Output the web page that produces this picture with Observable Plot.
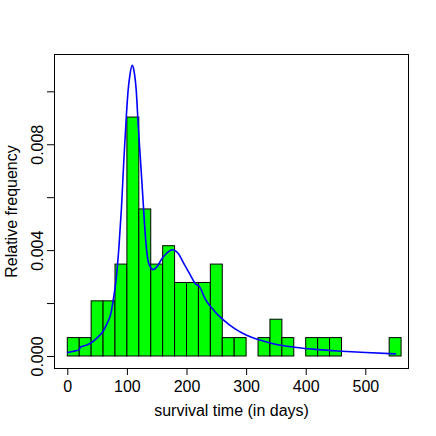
<!DOCTYPE html>
<html>
<head>
<meta charset="utf-8">
<script src="https://cdn.jsdelivr.net/npm/d3@7"></script>
<script src="https://cdn.jsdelivr.net/npm/@observablehq/plot@0.6"></script>
<style>
  html, body { margin: 0; padding: 0; background: #ffffff; }
  #chart svg { display: block; }
</style>
</head>
<body>
<div id="chart"></div>
<script>
// Histogram bins (left edges, width 20 days) and counts of guinea pigs
const binStart = [0, 20, 40, 60, 80, 100, 120, 140, 160, 180, 200, 220, 240, 260, 280, 300, 320, 340, 360, 380, 400, 420, 440, 460, 480, 500, 520, 540];
const binCounts = [1, 1, 3, 3, 5, 13, 8, 5, 6, 4, 4, 4, 5, 1, 1, 0, 1, 2, 1, 0, 1, 1, 1, 0, 0, 0, 0, 1];
const binWidth = 20;
const sampleSize = 72;

// Fitted density curve
const curveX = [0, 10, 19, 21, 30, 41, 50, 60, 66, 72, 77, 81, 86, 90, 94, 98, 101, 104, 108, 111, 115, 118, 122, 126, 129, 134, 138, 143, 150, 158, 166, 175, 185, 195, 205, 213, 222, 230, 245, 260, 280, 300, 325, 350, 380, 420, 460, 500, 550];
const curveY = [0.00015, 0.0002, 0.00025, 0.00035, 0.00042, 0.00054, 0.00072, 0.00098, 0.00125, 0.0016, 0.00224, 0.0029, 0.0042, 0.0056, 0.0074, 0.009, 0.01, 0.0106, 0.011, 0.0108, 0.01, 0.0088, 0.0074, 0.006, 0.0049, 0.0037, 0.0034, 0.00328, 0.0034, 0.0037, 0.0039, 0.00403, 0.0039, 0.0035, 0.0031, 0.00278, 0.0026, 0.0022, 0.00174, 0.0014, 0.00105, 0.0008, 0.0006, 0.00045, 0.00035, 0.00026, 0.0002, 0.00015, 0.0001];

// Axis ticks
const xTicks = [0, 100, 200, 300, 400, 500];
const yTicks = [0, 0.002, 0.004, 0.006, 0.008, 0.010];
const yLabelTicks = [0, 0.004, 0.008];
const yTickLabels = ["0.000", "0.004", "0.008"];

const xTitle = "survival time (in days)";
const yTitle = "Relative frequency";

const bins = binStart.map((s, i) => ({x1: s, x2: s + binWidth, y: binCounts[i] / (sampleSize * binWidth)}));
const curve = curveX.map((x, i) => ({x, y: curveY[i]}));

const chart = Plot.plot({
  width: 436,
  height: 436,
  marginLeft: 54,
  marginRight: 28,
  marginTop: 54,
  marginBottom: 68,
  style: {fontFamily: "'Liberation Sans', Arial, Helvetica, sans-serif", fontSize: "16px", color: "#000", background: "#fff"},
  x: {domain: [-22.3, 571.6]},
  y: {domain: [-0.000454, 0.01141]},
  marks: [
    Plot.rectY(bins, {x1: "x1", x2: "x2", y1: 0, y2: "y", fill: "#00ff00", stroke: "#000", strokeWidth: 1, inset: 0}),
    Plot.line(curve, {x: "x", y: "y", stroke: "#0000ff", strokeWidth: 1.6, curve: "monotone-x"}),
    Plot.frame({stroke: "#000", strokeWidth: 1}),
    Plot.axisX(xTicks, {tickSize: 7, tickPadding: 5, stroke: "#000", label: xTitle, labelAnchor: "center", labelOffset: 47, labelArrow: "none"}),
    Plot.axisY(yTicks, {tickSize: 7, tickFormat: () => "", stroke: "#000", label: yTitle, labelAnchor: "center", labelOffset: 48.5, labelArrow: "none"}),
    Plot.axisY(yLabelTicks, {tickSize: 0, tickPadding: 12, rotate: -90, textAnchor: "middle", lineAnchor: "bottom", tickFormat: (d) => yTickLabels[yLabelTicks.indexOf(d)], label: null})
  ]
});
document.getElementById("chart").appendChild(chart);
</script>
</body>
</html>
